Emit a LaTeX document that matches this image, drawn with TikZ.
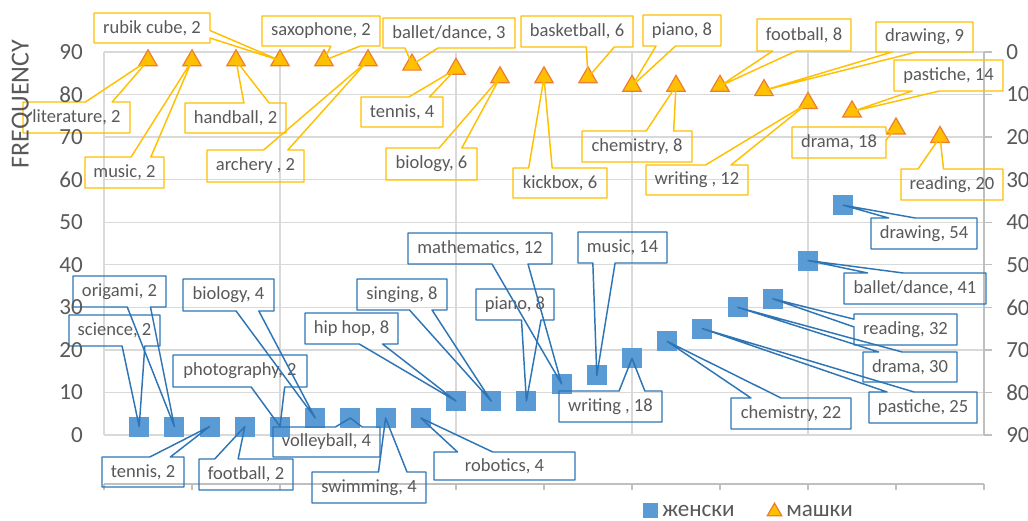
\documentclass[tikz,border=0pt]{standalone}
\usepackage{fontspec}
\setmainfont{Carlito}
\usetikzlibrary{calc,fit,shapes.geometric}
\definecolor{gridgray}{HTML}{D9D9D9}
\definecolor{axisgray}{HTML}{BFBFBF}
\definecolor{txtgray}{HTML}{595959}
\definecolor{sqblue}{HTML}{5B9BD5}
\definecolor{lnblue}{HTML}{2E75B6}
\definecolor{trifill}{HTML}{FFC000}
\definecolor{triedge}{HTML}{ED7D31}
\definecolor{lngold}{HTML}{FFC000}
\tikzset{
  boxfit/.style={rectangle, inner sep=0pt, outer sep=0pt},
  lbltext/.style={inner sep=0pt, text=txtgray, font=\fontsize{13.9}{16}\selectfont},
  bluecall/.style={draw=lnblue, line width=1.1pt, line join=round},
  goldcall/.style={draw=lngold, line width=1.1pt, line join=round},
  sqmark/.style={rectangle, fill=sqblue, minimum size=15pt, inner sep=0pt},
  trimark/.style={regular polygon, regular polygon sides=3, fill=trifill, draw=triedge, line width=0.9pt, minimum size=16pt, inner sep=0pt},
  ticklab/.style={text=txtgray, font=\fontsize{17.3}{20}\selectfont, inner sep=0pt},
  gridln/.style={draw=gridgray, line width=1pt},
  axisln/.style={draw=axisgray, line width=1pt},
}
% wedge callouts: #1 box, #2 tip node, #3 #4 fractions, #5 style
\newcommand{\wedgeB}[5]{\draw[#5] (#1.north west) -- (#1.north east) -- (#1.south east) -- ($(#1.south west)!#4!(#1.south east)$) -- (#2.center) -- ($(#1.south west)!#3!(#1.south east)$) -- (#1.south west) -- cycle;}
\newcommand{\wedgeT}[5]{\draw[#5] (#1.south west) -- (#1.south east) -- (#1.north east) -- ($(#1.north west)!#4!(#1.north east)$) -- (#2.center) -- ($(#1.north west)!#3!(#1.north east)$) -- (#1.north west) -- cycle;}
\newcommand{\wedgeL}[5]{\draw[#5] (#1.north west) -- (#1.north east) -- (#1.south east) -- (#1.south west) -- ($(#1.north west)!#4!(#1.south west)$) -- (#2.center) -- ($(#1.north west)!#3!(#1.south west)$) -- cycle;}
\newcommand{\wedgeR}[5]{\draw[#5] (#1.north west) -- (#1.north east) -- ($(#1.north east)!#3!(#1.south east)$) -- (#2.center) -- ($(#1.north east)!#4!(#1.south east)$) -- (#1.south east) -- (#1.south west) -- cycle;}
\newcommand{\callout}[9]{%
  \node[boxfit, fit={(#2) (#3)}] (#1) {};
  \csname wedge#6\endcsname{#1}{#5}{#7}{#8}{#9}%
  \node[lbltext] (#1t) at (#1.center) {#4};}

\begin{document}
\begin{tikzpicture}[x=0.75pt,y=-0.75pt]
\useasboundingbox (0,0) rectangle (1028,521);
\clip (0,0) rectangle (1028,521);
\fill[white] (0,0) rectangle (1028,521);

% grid
\foreach \i in {0,...,9} \draw[gridln] (104,{52+42.5556*\i}) -- (984,{52+42.5556*\i});
\foreach \x in {104,280,456,632,808} \draw[gridln] (\x,52) -- (\x,435);
% right axis
\draw[axisln] (984,52) -- (984,435);
\foreach \i in {0,...,9} \draw[axisln] (984,{52+42.5556*\i}) -- (992,{52+42.5556*\i});
% bottom axis
\draw[axisln] (104,484) -- (984,484);
\foreach \x in {104,192,...,984} \draw[axisln] (\x,484) -- (\x,490);

% squares (женски)
\node[sqmark] (s0) at (139.2,426.5) {};
\node[sqmark] (s1) at (174.4,426.5) {};
\node[sqmark] (s2) at (209.6,426.5) {};
\node[sqmark] (s3) at (244.8,426.5) {};
\node[sqmark] (s4) at (280.0,426.5) {};
\node[sqmark] (s5) at (315.2,418.0) {};
\node[sqmark] (s6) at (350.4,418.0) {};
\node[sqmark] (s7) at (385.6,418.0) {};
\node[sqmark] (s8) at (420.8,418.0) {};
\node[sqmark] (s9) at (456.0,401.0) {};
\node[sqmark] (s10) at (491.2,401.0) {};
\node[sqmark] (s11) at (526.4,401.0) {};
\node[sqmark] (s12) at (561.6,383.9) {};
\node[sqmark] (s13) at (596.8,375.4) {};
\node[sqmark] (s14) at (632.0,358.4) {};
\node[sqmark] (s15) at (667.2,341.4) {};
\node[sqmark] (s16) at (702.4,328.6) {};
\node[sqmark] (s17) at (737.6,307.3) {};
\node[sqmark] (s18) at (772.8,298.8) {};
\node[sqmark] (s19) at (808.0,260.5) {};
\node[sqmark] (s20) at (843.2,205.2) {};

% triangles (машки)
\node[trimark] (t1) at (148,60.5) {};
\node[trimark] (t2) at (192,60.5) {};
\node[trimark] (t3) at (236,60.5) {};
\node[trimark] (t4) at (280,60.5) {};
\node[trimark] (t5) at (324,60.5) {};
\node[trimark] (t6) at (368,60.5) {};
\node[trimark] (t7) at (412,64.8) {};
\node[trimark] (t8) at (456,69.0) {};
\node[trimark] (t9) at (500,77.5) {};
\node[trimark] (t10) at (544,77.5) {};
\node[trimark] (t11) at (588,77.5) {};
\node[trimark] (t12) at (632,86.0) {};
\node[trimark] (t13) at (676,86.0) {};
\node[trimark] (t14) at (720,86.0) {};
\node[trimark] (t15) at (764,90.3) {};
\node[trimark] (t16) at (808,103.1) {};
\node[trimark] (t17) at (852,111.6) {};
\node[trimark] (t18) at (896,128.6) {};
\node[trimark] (t19) at (940,137.1) {};

% callouts, squares
\callout{cs0}{69,315}{160,346}{science, 2}{s0}{B}{0.5833}{0.8333}{bluecall}
\callout{cs1}{73,276}{166,307}{origami, 2}{s1}{B}{0.5833}{0.8333}{bluecall}
\callout{cs2}{102,457}{184,487}{tennis, 2}{s2}{T}{0.5833}{0.8333}{bluecall}
\callout{cs3}{199,459}{293,490}{football, 2}{s3}{T}{0.1667}{0.4167}{bluecall}
\callout{cs4}{173,355}{307,387}{photography, 2}{s4}{B}{0.5833}{0.8333}{bluecall}
\callout{cs5}{183,279}{274,311}{biology, 4}{s5}{B}{0.5833}{0.8333}{bluecall}
\callout{cs6}{273,427}{380,457}{volleyball, 4}{s6}{T}{0.5833}{0.8333}{bluecall}
\callout{cs7}{312,472}{426,503}{swimming, 4}{s7}{T}{0.5833}{0.8333}{bluecall}
\callout{cs8}{434,452}{575,480}{robotics, 4}{s8}{T}{0.1667}{0.4167}{bluecall}
\callout{cs9}{305,313}{398,344}{hip hop, 8}{s9}{B}{0.5833}{0.8333}{bluecall}
\callout{cs10}{357,279}{447,310}{singing, 8}{s10}{B}{0.5833}{0.8333}{bluecall}
\callout{cs11}{476,289}{554,320}{piano, 8}{s11}{B}{0.5833}{0.8333}{bluecall}
\callout{cs12}{408,233}{552,264}{mathematics, 12}{s12}{B}{0.5833}{0.8333}{bluecall}
\callout{cs13}{578,232}{667,263}{music, 14}{s13}{B}{0.1667}{0.4167}{bluecall}
\callout{cs14}{559,391}{662,422}{writing , 18}{s14}{T}{0.5833}{0.8333}{bluecall}
\callout{cs15}{731,398}{851,429}{chemistry, 22}{s15}{T}{0.1667}{0.4167}{bluecall}
\callout{cs16}{869,392}{977,423}{pastiche, 25}{s16}{T}{0.1667}{0.4167}{bluecall}
\callout{cs17}{863,352}{957,382}{drama, 30}{s17}{T}{0.1667}{0.4167}{bluecall}
\callout{cs18}{854,314}{957,345}{reading, 32}{s18}{L}{0.1667}{0.4167}{bluecall}
\callout{cs19}{844,273}{986,304}{ballet/dance, 41}{s19}{T}{0.1667}{0.4167}{bluecall}
\callout{cs20}{871,218}{977,249}{drawing, 54}{s20}{T}{0.1667}{0.4167}{bluecall}

% callouts, triangles
\callout{ct1}{23,102}{130,133}{literature, 2}{t1}{T}{0.5833}{0.8333}{goldcall}
\callout{ct2}{85,157}{164,188}{music, 2}{t2}{T}{0.5833}{0.8333}{goldcall}
\callout{ct3}{185,103}{286,133}{handball, 2}{t3}{T}{0.5833}{0.8333}{goldcall}
\callout{ct4}{94,13}{210,43}{rubik cube, 2}{t4}{R}{0.5833}{0.8333}{goldcall}
\callout{ct5}{262,16}{380,46}{saxophone, 2}{t5}{B}{0.5833}{0.8333}{goldcall}
\callout{ct6}{207,150}{304,182}{archery , 2}{t6}{T}{0.5833}{0.8333}{goldcall}
\callout{ct7}{383,18}{515,48}{ballet/dance, 3}{t7}{B}{0.1667}{0.4167}{goldcall}
\callout{ct8}{361,97}{443,127}{tennis, 4}{t8}{T}{0.5833}{0.8333}{goldcall}
\callout{ct9}{386,148}{477,180}{biology, 6}{t9}{T}{0.5833}{0.8333}{goldcall}
\callout{ct10}{513,168}{607,198}{kickbox, 6}{t10}{T}{0.1667}{0.4167}{goldcall}
\callout{ct11}{521,16}{633,47}{basketball, 6}{t11}{B}{0.5833}{0.8333}{goldcall}
\callout{ct12}{643,15}{721,46}{piano, 8}{t12}{B}{0.1667}{0.4167}{goldcall}
\callout{ct13}{582,131}{692,162}{chemistry, 8}{t13}{T}{0.5833}{0.8333}{goldcall}
\callout{ct14}{757,19}{851,51}{football, 8}{t14}{B}{0.1667}{0.4167}{goldcall}
\callout{ct15}{876,22}{973,52}{drawing, 9}{t15}{B}{0.1667}{0.4167}{goldcall}
\callout{ct16}{646,165}{748,195}{writing , 12}{t16}{T}{0.5833}{0.8333}{goldcall}
\callout{ct17}{894,60}{1003,91}{pastiche, 14}{t17}{B}{0.1667}{0.4167}{goldcall}
\callout{ct18}{792,127}{886,158}{drama, 18}{t18}{R}{0.1667}{0.4167}{goldcall}
\callout{ct19}{901,169}{1003,200}{reading, 20}{t19}{T}{0.1667}{0.4167}{goldcall}

% axis labels
\foreach \i in {0,...,9} {
  \pgfmathtruncatemacro\val{10*\i}
  \node[ticklab, anchor=east] (yl\i) at (83,{435-42.5556*\i}) {\val};
  \node[ticklab, anchor=west] (yr\i) at (1006,{52+42.5556*\i}) {\val};
}
\node[rotate=90, text=txtgray, font=\fontsize{19.5}{22}\selectfont, inner sep=0pt] (ytitle) at (22,104) {FREQUENCY};

% legend
\node[sqmark, minimum size=11.25pt] (legsq) at (650.5,510.5) {};
\node[ticklab, anchor=west] (legsqt) at (662,510.5) {женски};
\node[trimark, minimum size=12.5pt] (legtri) at (774.5,511.5) {};
\node[ticklab, anchor=west] (legtrit) at (786,510.5) {машки};
\end{tikzpicture}
\end{document}
